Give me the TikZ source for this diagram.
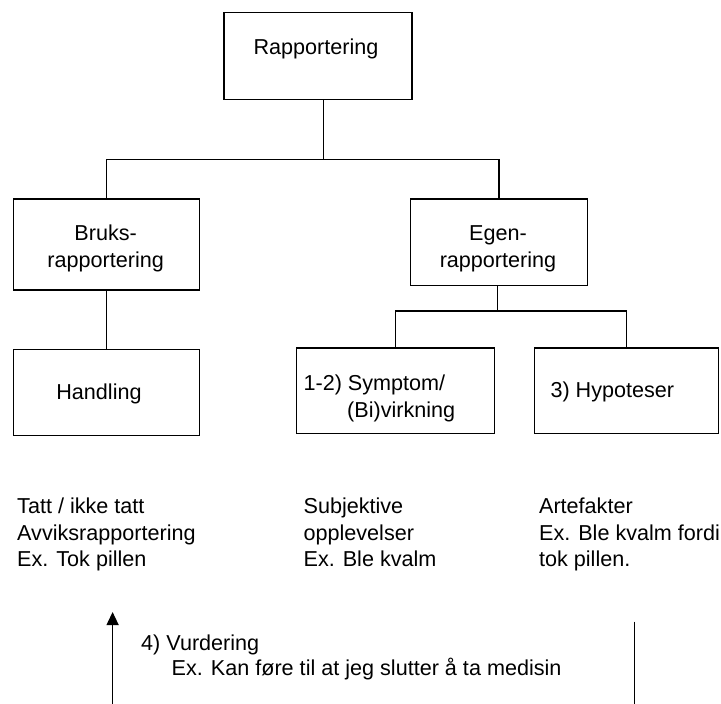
\documentclass[tikz,border=0pt]{standalone}
\usepackage{fontspec}
\setmainfont{Liberation Sans}
\usetikzlibrary{arrows.meta}
\begin{document}
\begin{tikzpicture}[x=1pt,y=-1pt,
  box/.style={draw,line width=1.4pt,inner sep=0pt,anchor=center},
  txt/.style={inner sep=0pt,font=\fontsize{21.6}{26.7}\selectfont},
  lt/.style={txt,anchor=base west},
  ct/.style={txt,anchor=base},
  link/.style={line width=1.4pt}]
\useasboundingbox (0,0) rectangle (721,704);

% boxes
\node[box,minimum width=188pt,minimum height=87pt]   (top)  at (318,55.8)  {};
\node[box,minimum width=186.2pt,minimum height=91pt] (bruks) at (106.4,244.5) {};
\node[box,minimum width=177pt,minimum height=86.7pt] (egen) at (499.1,242.3) {};
\node[box,minimum width=186.2pt,minimum height=86pt] (hand) at (106.4,392.3) {};
\node[box,minimum width=198.1pt,minimum height=85.7pt] (symp) at (395.6,390.8) {};
\node[box,minimum width=184.3pt,minimum height=85.7pt] (hyp)  at (626.5,390.8) {};

% box labels
\node[ct] (tTop) at (316,54) {Rapportering};
\node[ct] (tBr1) at (105.7,240.5) {Bruks-};
\node[ct] (tBr2) at (105.7,267.5) {rapportering};
\node[ct] (tEg1) at (498,240.5) {Egen-};
\node[ct] (tEg2) at (498,267.5) {rapportering};
\node[ct] (tHa)  at (99,399) {Handling};
\node[lt] (tSy1) at (303.4,390) {1-2) Symptom/};
\node[lt] (tSy2) at (347,417) {(Bi)virkning};
\node[lt] (tHy)  at (550.3,397.5) {3) Hypoteser};

% tree connectors
\coordinate (j1) at (323.7,159.3);
\coordinate (j2) at (497.5,311);
\draw[link] (top.south -| j1) -- (j1);
\draw[link] (bruks.north) |- (j1) -| (egen.north);
\draw[link] (bruks.south) -- (hand.north);
\draw[link] (egen.south -| j2) -- (j2);
\draw[link] (symp.north) |- (j2) -| (hyp.north);

% descriptions under the boxes
\node[lt] (a1) at (17,513.3) {Tatt / ikke tatt};
\node[lt] (a2) at (17,540)   {Avviksrapportering};
\node[lt] (a3) at (17,566.7) {Ex. Tok pillen};
\node[lt] (b1) at (303.4,513.3) {Subjektive};
\node[lt] (b2) at (303.4,540)   {opplevelser};
\node[lt] (b3) at (303.4,566.7) {Ex. Ble kvalm};
\node[lt] (c1) at (538.9,513.3) {Artefakter};
\node[lt] (c2) at (538.9,540)   {Ex. Ble kvalm fordi};
\node[lt] (c3) at (538.9,566.7) {tok pillen.};

% evaluation feedback
\node[lt] (v1) at (141,650.5) {4) Vurdering};
\node[lt] (v2) at (171.5,675.5) {Ex. Kan føre til at jeg slutter å ta medisin};
\coordinate (arrA) at (112.6,704);
\coordinate (arrB) at (112.6,612);
\coordinate (linA) at (634.5,621.7);
\coordinate (linB) at (634.5,704);
\draw[link,line width=1.3pt,-{Triangle[length=13pt,width=12pt]}] (arrA) -- (arrB);
\draw[link,line width=1.3pt] (linA) -- (linB);
\end{tikzpicture}
\end{document}
